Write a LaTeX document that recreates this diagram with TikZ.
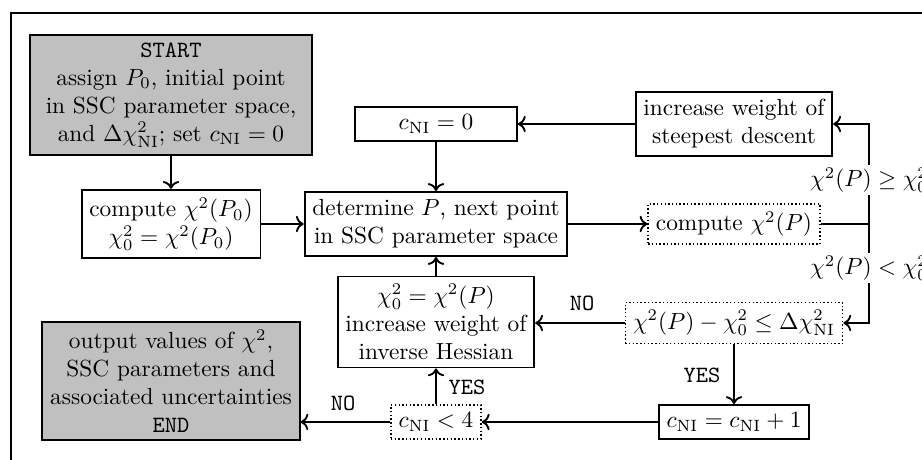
\documentclass[tikz,border=0pt]{standalone}
\usepackage{amsmath}
\usepackage{amssymb}
\usepackage{tikz}
\usepackage{xcolor}
\usetikzlibrary{arrows.meta, positioning, calc}
\definecolor{cShade}{RGB}{192,192,192}
\tikzset{
	blk/.style      ={rectangle, draw=black, thick, align=center},
	termblk/.style  ={blk, fill=cShade},
	testblk/.style  ={rectangle, draw=black, densely dotted, semithick, align=center},
	flow/.style     ={->, thick},
	branch/.style   ={font=\ttfamily},
	cond/.style     ={fill=white, inner sep=1pt},
}

\begin{document}
\begin{tikzpicture}[x=0.01506cm, y=-0.01506cm]
	\useasboundingbox (0,0) rectangle (922,460);
	% frame of the figure
	\draw[line width=1.2pt] (11,480) -- (11,13) -- (940,13);

	% left column
	\node[termblk, minimum width=4.25cm, minimum height=1.81cm] (start) at (171,95)
		{\texttt{START}\\ assign $P_0$, initial point\\ in SSC parameter space,\\ and $\Delta\chi^2_{\mathrm{NI}}$; set $c_{\mathrm{NI}}=0$};
	\node[blk] (comp0) at (171,224) {compute $\chi^2(P_0)$\\ $\chi^2_0=\chi^2(P_0)$};
	\node[termblk] (output) at (171,381)
		{output values of $\chi^2$,\\ SSC parameters and\\ associated uncertainties\\ \texttt{END}};

	% middle column
	\node[blk, minimum width=2.44cm] (cnizero) at (436,124) {$c_{\mathrm{NI}}=0$};
	\node[blk] (determine) at (436,224) {determine $P$, next point\\ in SSC parameter space};
	\node[blk, minimum height=1.37cm] (hessian) at (436,322) {$\chi^2_0=\chi^2(P)$\\ increase weight of\\ inverse Hessian};
	\node[testblk] (cnilt) at (436,422) {$c_{\mathrm{NI}}<4$};

	% right column
	\node[blk] (steepest) at (734,124) {increase weight of\\ steepest descent};
	\node[testblk] (compP) at (734,224) {compute $\chi^2(P)$};
	\node[testblk] (test) at (734,323) {$\chi^2(P)-\chi^2_0\le\Delta\chi^2_{\mathrm{NI}}$};
	\node[blk] (cniinc) at (734,422) {$c_{\mathrm{NI}}=c_{\mathrm{NI}}+1$};

	\coordinate (split) at (869,224);

	\draw[flow] (start) -- (comp0);
	\draw[flow] (comp0) -- (determine);
	\draw[flow] (cnizero) -- (determine);
	\draw[flow] (determine) -- (compP);
	\draw[thick] (compP) -- (split);
	\draw[flow] (split) -- (split |- steepest) -- (steepest);
	\draw[flow] (split) -- (split |- test) -- (test);
	\node[cond] at (869,180) {$\chi^2(P)\ge\chi^2_0$};
	\node[cond] at (869,268) {$\chi^2(P)<\chi^2_0$};
	\draw[flow] (steepest) -- (cnizero);
	\draw[flow] (test.west) -- (test.west -| hessian.east);
	\node[branch] at (582,303) {NO};
	\draw[flow] (test) -- (cniinc);
	\node[branch] at (702,375) {YES};
	\draw[flow] (cniinc) -- (cnilt);
	\draw[flow] (cnilt) -- (hessian);
	\node[branch] at (467,387) {YES};
	\draw[flow] (cnilt.west) -- (cnilt.west -| output.east);
	\node[branch] at (343,403) {NO};
	\draw[flow] (hessian) -- (determine);
\end{tikzpicture}
\end{document}
